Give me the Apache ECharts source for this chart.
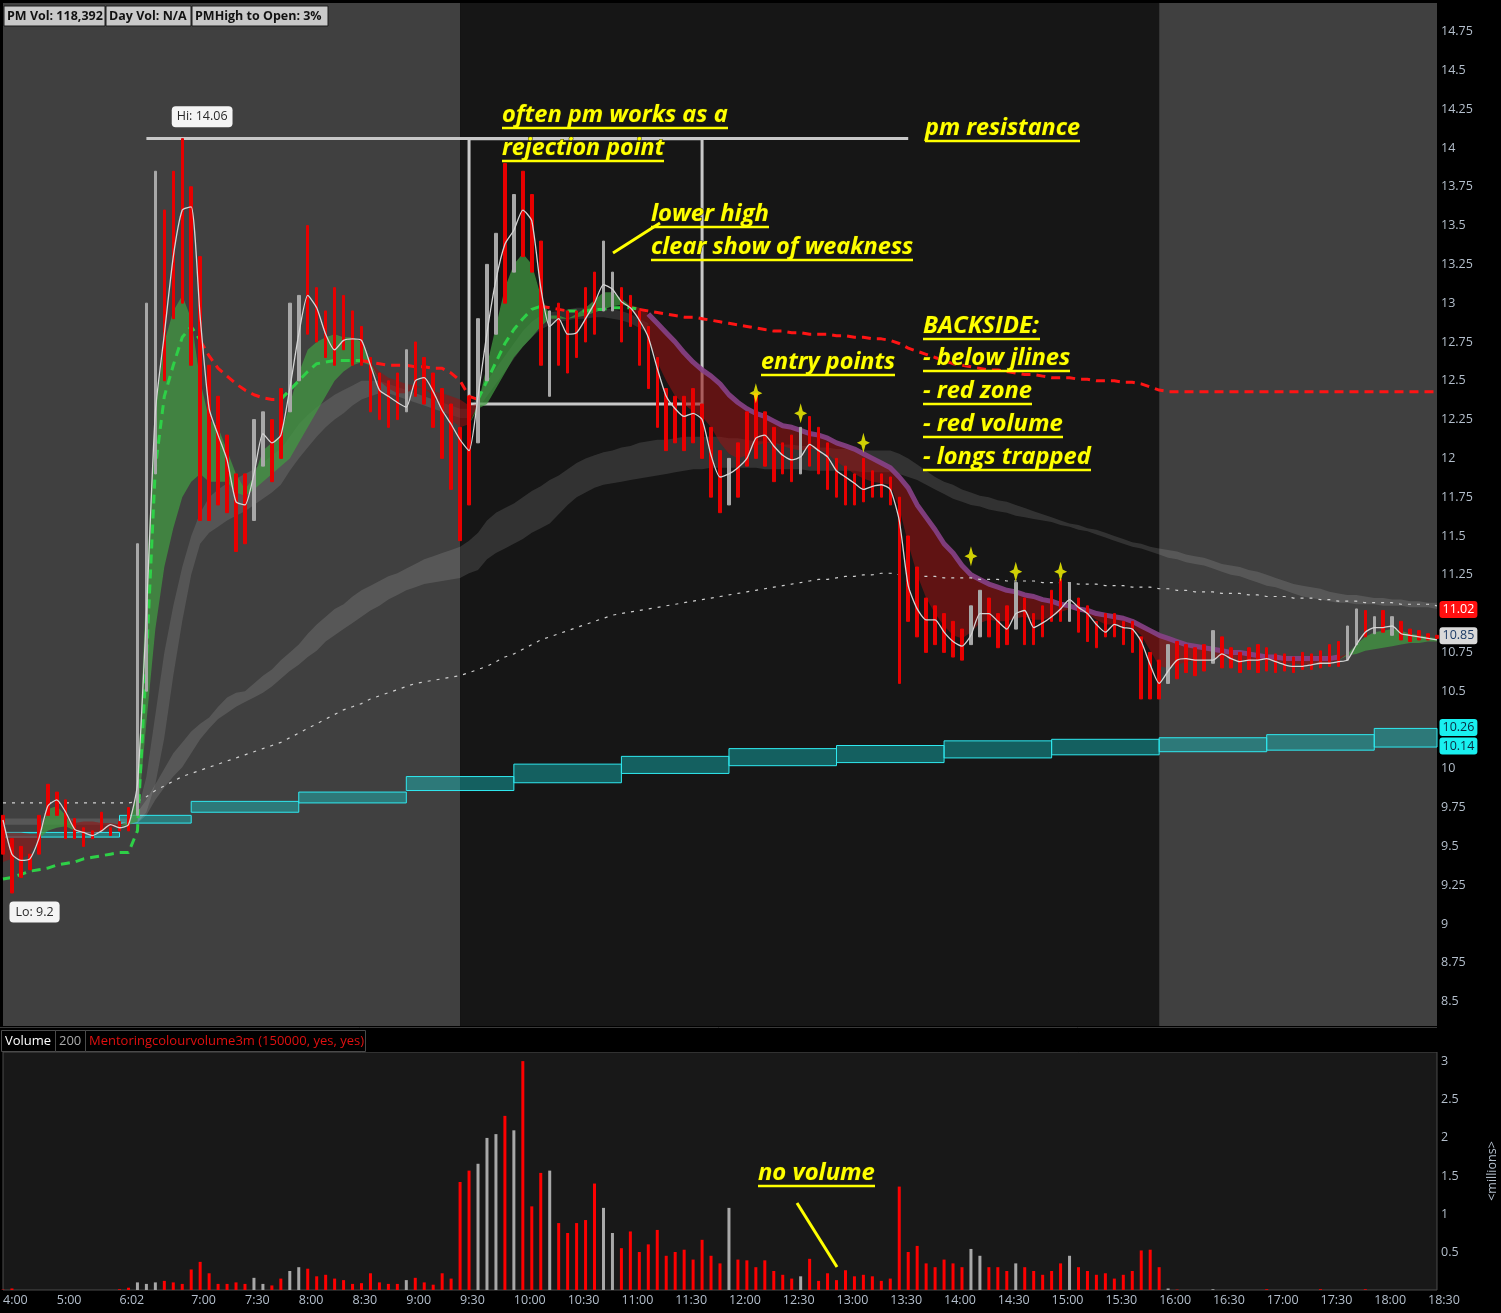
<!DOCTYPE html>
<html><head><meta charset="utf-8">
<script src="https://cdn.jsdelivr.net/npm/echarts@6/dist/echarts.min.js"></script>
<style>html,body{margin:0;padding:0;background:#000;}#c{width:1501px;height:1313px;}</style>
</head><body><div id="c"></div>
<script>
// ---------- categories (time slots) ----------
const preTimes = ["4:00","4:08","4:17","4:25","4:34","4:42","5:00","5:10","5:20","5:30","5:40","5:50","5:56","6:02","6:10","6:17","6:24","6:31","6:38","6:45","6:52"];
const slotTimes = preTimes.slice();
for (let m = 7 * 60; m <= 18 * 60 + 35; m += 5) slotTimes.push(Math.floor(m / 60) + ':' + String(m % 60).padStart(2, '0'));
const axisTimes = ["4:00","5:00","6:02","7:00","7:30","8:00","8:30","9:00","9:30","10:00","10:30","11:00","11:30","12:00","12:30","13:00","13:30","14:00","14:30","15:00","15:30","16:00","16:30","17:00","17:30","18:00","18:30"];

// ---------- price data ----------
const ema = [9.67,9.45,9.41,9.42,9.55,9.76,9.80,9.72,9.61,9.59,
 9.57,9.60,9.64,9.62,9.64,9.90,11.0,12.3,12.8,13.3,
 13.6,13.62,12.91,12.32,12.15,11.99,11.72,11.70,11.90,12.16,
 12.10,12.15,12.45,12.80,13.05,12.97,12.80,12.70,12.76,12.77,
 12.76,12.60,12.44,12.40,12.36,12.33,12.50,12.52,12.43,12.31,
 12.22,12.12,12.05,12.40,12.81,13.15,13.38,13.47,13.60,13.53,
 13.10,12.85,12.90,12.80,12.81,12.90,13.00,13.12,13.09,13.01,
 12.97,12.89,12.78,12.58,12.40,12.32,12.27,12.29,12.25,12.02,
 11.88,11.90,11.94,12.00,12.13,12.15,12.08,12.02,11.99,12.01,
 12.09,12.05,12.01,11.92,11.88,11.84,11.80,11.82,11.83,11.80,
 11.60,11.18,11.03,10.96,10.96,10.88,10.82,10.79,10.86,11.00,
 11.00,10.95,10.90,11.00,11.02,10.91,10.94,10.98,11.03,11.09,
 11.04,11.00,10.93,10.88,10.93,10.91,10.90,10.82,10.67,10.55,
 10.63,10.70,10.71,10.70,10.70,10.70,10.74,10.71,10.69,10.70,
 10.70,10.71,10.69,10.67,10.66,10.66,10.67,10.68,10.68,10.69,
 10.70,10.80,10.88,10.91,10.91,10.92,10.87,10.86,10.85,10.84,
 10.83];
const barHigh = [9.70,9.55,9.50,9.45,9.70,9.90,9.85,9.80,9.68,9.62,
 9.60,9.72,9.62,9.66,9.75,11.45,13.0,13.85,13.6,13.85,
 14.06,13.75,13.3,12.6,12.4,12.15,11.9,11.9,12.25,12.3,
 12.25,12.45,13.0,13.05,13.5,13.1,12.95,13.1,13.05,12.95,
 12.85,12.65,12.55,12.5,12.55,12.7,12.75,12.65,12.55,12.45,
 12.35,12.2,12.4,12.9,13.25,13.45,13.9,13.7,13.85,13.7,
 13.4,12.95,13.0,12.95,12.95,13.1,13.2,13.4,13.2,13.1,
 13.05,12.95,12.85,12.65,12.45,12.4,12.4,12.45,12.35,12.2,
 12.05,12.0,12.1,12.3,12.42,12.3,12.2,12.1,12.15,12.2,
 12.27,12.2,12.1,12.0,11.95,11.9,12.0,11.92,11.9,11.88,
 11.75,11.5,11.3,11.1,11.05,11.0,10.95,10.9,11.05,11.15,
 11.1,11.0,11.05,11.2,11.1,11.0,11.05,11.15,11.22,11.2,
 11.1,11.05,10.95,11.0,11.0,10.95,10.95,10.85,10.75,10.7,
 10.8,10.82,10.8,10.78,10.8,10.89,10.85,10.78,10.75,10.78,
 10.8,10.78,10.74,10.74,10.72,10.75,10.74,10.76,10.8,10.82,
 10.92,11.03,11.02,10.98,11.02,10.98,10.95,10.9,10.89,10.87,
 10.86];
const barLow = [9.45,9.20,9.30,9.35,9.45,9.70,9.70,9.55,9.55,9.50,
 9.55,9.60,9.57,9.60,9.60,9.70,10.5,11.9,12.5,12.9,
 13.0,12.6,11.6,11.6,11.7,11.65,11.4,11.45,11.6,11.95,
 11.85,12.0,12.3,12.5,12.8,12.75,12.65,12.6,12.7,12.6,
 12.6,12.3,12.25,12.2,12.25,12.3,12.4,12.35,12.2,12.0,
 11.8,11.47,11.7,12.1,12.5,12.8,13.0,13.2,13.3,13.2,
 12.6,12.4,12.6,12.55,12.65,12.75,12.8,12.95,12.95,12.75,
 12.85,12.6,12.45,12.2,12.05,12.1,12.05,12.1,12.0,11.75,
 11.65,11.7,11.75,11.95,12.0,11.95,11.85,11.9,11.85,11.9,
 11.95,11.9,11.8,11.75,11.7,11.7,11.72,11.75,11.75,11.7,
 10.55,10.95,10.85,10.75,10.8,10.75,10.72,10.7,10.8,10.85,
 10.85,10.78,10.8,10.9,10.8,10.8,10.85,10.95,10.95,10.95,
 10.88,10.82,10.78,10.85,10.85,10.8,10.75,10.45,10.45,10.45,
 10.55,10.58,10.62,10.6,10.63,10.68,10.65,10.65,10.62,10.64,
 10.62,10.63,10.62,10.63,10.62,10.64,10.64,10.65,10.66,10.66,
 10.7,10.8,10.85,10.87,10.88,10.86,10.83,10.82,10.83,10.83,
 10.84];
// u = up bar (grey), d = down bar (red)
const barDir = "dddddddddd"+"ddddduuudd"+"dddddddduu"+"dduudddddd"+"dddddudddd"+"ddduuududd"+"duddddduud"+"dddddddddd"+
 "dudddddddu"+"dddddddddd"+"dddddddduu"+"dddudddddu"+"dddddddddd"+"uddddudddd"+"dddddddddd"+"uudududddd"+"d";
// volume in millions
const volume = [0.005,0.02,0,0,0,0,0,0,0,0,
 0,0,0,0.01,0.03,0.1,0.08,0.1,0.12,0.1,
 0.08,0.27,0.37,0.22,0.08,0.08,0.1,0.08,0.16,0.08,
 0.06,0.15,0.25,0.3,0.28,0.18,0.2,0.15,0.13,0.08,
 0.09,0.22,0.1,0.08,0.08,0.13,0.16,0.1,0.07,0.22,
 0.15,1.42,1.57,1.66,2.0,2.05,2.29,2.1,3.01,1.1,
 1.54,1.57,0.88,0.75,0.88,0.92,1.4,1.08,0.75,0.55,
 0.77,0.5,0.6,0.79,0.45,0.5,0.53,0.4,0.66,0.45,
 0.35,1.08,0.4,0.39,0.3,0.39,0.25,0.2,0.15,0.18,
 0.41,0.12,0.22,0.13,0.26,0.18,0.2,0.18,0.12,0.15,
 1.36,0.5,0.58,0.35,0.3,0.4,0.35,0.3,0.54,0.45,
 0.3,0.3,0.25,0.35,0.3,0.25,0.2,0.25,0.35,0.45,
 0.3,0.25,0.2,0.22,0.15,0.2,0.25,0.52,0.53,0.3,
 0.02,0.005,0,0,0,0.01,0,0,0,0,
 0,0.01,0,0,0,0,0,0.01,0,0,
 0,0,0.01,0,0,0,0,0,0,0,
 0];
// "jlines" fast / slow
const jFast = [9.40,9.42,9.42,9.45,9.55,9.74,9.76,9.70,9.60,9.58,
 9.58,9.60,9.62,9.63,9.66,9.85,11.2,12.3,12.75,12.95,
 13.05,12.9,12.5,12.25,12.2,12.05,11.9,11.8,11.88,12.05,
 12.1,12.15,12.35,12.55,12.7,12.75,12.78,12.8,12.78,12.78,
 12.75,12.62,12.5,12.45,12.42,12.42,12.46,12.45,12.4,12.32,
 12.25,12.2,12.22,12.35,12.6,12.85,13.1,13.25,13.32,13.25,
 13.05,12.92,12.92,12.9,12.93,12.97,13.02,13.07,13.07,13.03,
 12.98,12.9,12.78,12.62,12.5,12.4,12.35,12.3,12.27,12.2,
 12.1,12.03,12.0,12.02,12.08,12.1,12.1,12.08,12.06,12.05,
 12.06,12.06,12.03,11.98,11.94,11.9,11.87,11.85,11.84,11.83,
 11.68,11.45,11.25,11.1,11.0,10.92,10.86,10.84,10.88,10.94,
 10.96,10.95,10.95,10.97,10.98,10.96,10.96,10.98,11.01,11.03,
 11.02,11.0,10.96,10.93,10.93,10.92,10.91,10.86,10.76,10.66,
 10.65,10.67,10.69,10.7,10.7,10.71,10.72,10.71,10.7,10.7,
 10.7,10.7,10.69,10.68,10.68,10.67,10.67,10.68,10.69,10.7,
 10.74,10.8,10.85,10.88,10.89,10.9,10.89,10.87,10.86,10.85,
 10.84];
const jSlow = [9.59,9.59,9.59,9.58,9.58,9.60,9.62,9.63,9.65,9.66,
 9.66,9.65,9.65,9.64,9.64,9.66,10.3,10.9,11.3,11.55,
 11.75,11.85,11.9,11.85,11.85,11.85,11.78,11.76,11.8,11.85,
 11.9,11.95,12.0,12.1,12.2,12.3,12.4,12.5,12.56,12.6,
 12.62,12.6,12.56,12.52,12.5,12.48,12.47,12.45,12.43,12.42,
 12.4,12.38,12.34,12.32,12.35,12.45,12.55,12.65,12.72,12.78,
 12.85,12.9,12.9,12.9,12.91,12.92,12.94,12.96,12.98,12.99,
 12.99,12.97,12.93,12.87,12.81,12.75,12.68,12.62,12.57,12.53,
 12.48,12.41,12.36,12.32,12.29,12.27,12.24,12.21,12.2,12.18,
 12.16,12.15,12.13,12.1,12.08,12.06,12.03,12.0,11.97,11.94,
 11.88,11.81,11.7,11.62,11.54,11.45,11.39,11.31,11.25,11.22,
 11.19,11.17,11.15,11.14,11.12,11.11,11.09,11.08,11.06,11.05,
 11.03,11.02,11.0,10.99,10.98,10.97,10.95,10.92,10.89,10.86,
 10.84,10.82,10.8,10.79,10.78,10.77,10.76,10.75,10.75,10.74,
 10.73,10.72,10.72,10.71,10.71,10.71,10.71,10.71,10.71,10.72,
 10.73,10.74,10.76,10.77,10.78,10.79,10.8,10.81,10.81,10.82,
 10.82];
const purpleSpan = ["11:15", "17:40"];
// near grey band (starts at 6:17)
const bandAStart = "6:17";
const bandAUp = [9.72,9.95,10.35,10.75,11.05,
 11.3,11.5,11.65,11.75,11.8,11.84,11.87,11.9,11.93,11.97,
 12.02,12.06,12.14,12.22,12.28,12.33,12.37,12.41,12.44,12.47,
 12.5,12.5,12.5,12.48,12.46,12.44,12.42,12.4,12.38,12.36,
 12.34,12.32,12.32,12.4,12.5,12.58,12.66,12.74,12.82,12.88,
 12.92,12.94,12.95,12.96,12.97,12.97,12.97,12.97,12.96,12.95,
 12.93,12.9,12.87];
const bandALo = [9.65,9.72,9.9,10.2,10.6,
 10.95,11.25,11.45,11.52,11.56,11.6,11.63,11.66,11.7,11.74,
 11.78,11.83,11.92,12.0,12.07,12.14,12.2,12.25,12.29,12.34,
 12.38,12.4,12.42,12.42,12.4,12.38,12.36,12.34,12.32,12.3,
 12.28,12.26,12.26,12.32,12.4,12.48,12.56,12.64,12.72,12.78,
 12.83,12.86,12.88,12.89,12.9,12.9,12.91,12.91,12.9,12.89,
 12.87,12.84,12.81];
// wide grey band
const bandBUp = [9.68,9.68,9.68,9.68,9.68,9.68,9.68,9.68,9.68,9.68,
 9.68,9.68,9.68,9.68,9.68,9.72,9.8,9.9,10.0,10.1,
 10.17,10.24,10.29,10.33,10.4,10.46,10.49,10.5,10.55,10.6,
 10.64,10.7,10.75,10.8,10.87,10.93,10.98,11.03,11.06,11.11,
 11.15,11.18,11.21,11.24,11.26,11.29,11.32,11.35,11.37,11.39,
 11.41,11.43,11.47,11.52,11.6,11.65,11.68,11.71,11.75,11.79,
 11.82,11.86,11.89,11.93,11.97,12.0,12.02,12.04,12.05,12.07,
 12.08,12.1,12.11,12.12,12.12,12.13,12.14,12.14,12.14,12.14,
 12.14,12.13,12.13,12.12,12.11,12.11,12.1,12.09,12.09,12.08,
 12.08,12.07,12.07,12.06,12.06,12.05,12.05,12.05,12.05,12.05,
 12.03,12.0,11.96,11.92,11.88,11.85,11.83,11.8,11.78,11.76,
 11.75,11.73,11.72,11.7,11.68,11.66,11.64,11.62,11.6,11.58,
 11.57,11.55,11.54,11.52,11.5,11.48,11.46,11.45,11.43,11.42,
 11.41,11.4,11.38,11.37,11.36,11.34,11.32,11.31,11.3,11.28,
 11.27,11.25,11.23,11.21,11.19,11.18,11.17,11.16,11.14,11.13,
 11.12,11.12,11.11,11.1,11.1,11.09,11.09,11.08,11.08,11.07,
 11.07];
const bandBLo = [9.64,9.64,9.64,9.64,9.64,9.64,9.64,9.64,9.64,9.64,
 9.64,9.64,9.64,9.64,9.64,9.65,9.7,9.8,9.88,9.95,
 10.01,10.1,10.19,10.26,10.32,10.36,10.4,10.43,10.46,10.49,
 10.53,10.58,10.63,10.67,10.72,10.76,10.82,10.86,10.9,10.94,
 10.98,11.02,11.05,11.09,11.12,11.15,11.17,11.19,11.2,11.21,
 11.22,11.23,11.26,11.28,11.35,11.39,11.42,11.45,11.48,11.52,
 11.55,11.58,11.64,11.7,11.75,11.78,11.81,11.83,11.84,11.85,
 11.86,11.87,11.88,11.89,11.9,11.91,11.92,11.93,11.93,11.94,
 11.94,11.94,11.94,11.94,11.94,11.93,11.93,11.93,11.93,11.93,
 11.92,11.92,11.92,11.92,11.92,11.92,11.91,11.91,11.91,11.91,
 11.9,11.88,11.86,11.83,11.8,11.77,11.74,11.72,11.7,11.69,
 11.67,11.66,11.65,11.63,11.62,11.61,11.6,11.59,11.57,11.56,
 11.54,11.53,11.51,11.49,11.47,11.45,11.43,11.42,11.4,11.38,
 11.36,11.35,11.33,11.32,11.31,11.29,11.27,11.25,11.24,11.22,
 11.2,11.18,11.17,11.15,11.13,11.11,11.1,11.09,11.08,11.07,
 11.07,11.06,11.06,11.06,11.05,11.05,11.05,11.04,11.04,11.04,
 11.03];
const vwap = [9.78,9.78,9.78,9.78,9.78,9.78,9.78,9.78,9.78,9.78,
 9.78,9.78,9.78,9.78,9.78,9.79,9.82,9.86,9.89,9.92,
 9.95,9.97,9.99,10.01,10.03,10.05,10.07,10.09,10.11,10.13,
 10.15,10.17,10.2,10.23,10.26,10.29,10.32,10.35,10.38,10.4,
 10.42,10.45,10.47,10.49,10.51,10.53,10.55,10.56,10.57,10.58,
 10.59,10.6,10.62,10.64,10.66,10.69,10.72,10.74,10.77,10.8,
 10.83,10.85,10.87,10.89,10.91,10.93,10.95,10.97,10.99,11.0,
 11.01,11.02,11.03,11.04,11.05,11.06,11.07,11.08,11.09,11.1,
 11.11,11.12,11.13,11.14,11.15,11.16,11.17,11.18,11.19,11.2,
 11.21,11.22,11.22,11.23,11.24,11.24,11.25,11.25,11.26,11.26,
 11.25,11.25,11.24,11.24,11.24,11.23,11.23,11.23,11.23,11.22,
 11.22,11.22,11.21,11.21,11.21,11.21,11.2,11.2,11.2,11.2,
 11.19,11.19,11.19,11.18,11.18,11.18,11.17,11.17,11.17,11.16,
 11.16,11.15,11.15,11.14,11.14,11.14,11.13,11.13,11.13,11.12,
 11.12,11.11,11.11,11.11,11.1,11.1,11.1,11.09,11.09,11.08,
 11.08,11.08,11.07,11.07,11.07,11.07,11.06,11.06,11.06,11.06,
 11.05];
// dashed trend line and its colour side (g = green, r = red)
const trend = [9.29,9.30,9.32,9.34,9.35,9.36,9.38,9.39,9.40,9.42,
 9.43,9.44,9.45,9.46,9.46,9.6,10.7,11.94,12.4,12.6,
 12.78,12.85,12.76,12.66,12.58,12.53,12.48,12.44,12.41,12.39,
 12.38,12.38,12.44,12.5,12.56,12.61,12.62,12.63,12.63,12.63,
 12.63,12.62,12.61,12.6,12.6,12.6,12.59,12.59,12.58,12.58,
 12.55,12.5,12.4,12.38,12.5,12.62,12.74,12.83,12.9,12.96,
 12.98,12.97,12.96,12.95,12.95,12.95,12.96,12.96,12.97,12.97,
 12.97,12.96,12.95,12.94,12.93,12.92,12.91,12.91,12.9,12.89,
 12.88,12.87,12.86,12.85,12.84,12.83,12.82,12.82,12.81,12.81,
 12.8,12.8,12.8,12.79,12.79,12.78,12.78,12.77,12.77,12.76,
 12.74,12.71,12.69,12.67,12.65,12.63,12.61,12.6,12.59,12.58,
 12.57,12.57,12.56,12.55,12.54,12.54,12.53,12.52,12.52,12.52,
 12.51,12.51,12.5,12.5,12.5,12.49,12.49,12.48,12.46,12.44,
 12.43,12.43,12.43,12.43,12.43,12.43,12.43,12.43,12.43,12.43,
 12.43,12.43,12.43,12.43,12.43,12.43,12.43,12.43,12.43,12.43,
 12.43,12.43,12.43,12.43,12.43,12.43,12.43,12.43,12.43,12.43,
 12.43];
const trendSide = "gggggggggggggggggggggg"+"rrrrrrrrr"+"ggggggggg"+"rrrrrrrrrrrrr"+"ggggggg"+"rrr"+"gggggggg"+"r".repeat(90);
// hourly cyan band
const cyanStart = ["4:00","6:02","7:00","8:00","9:00","10:00","11:00","12:00","13:00","14:00","15:00","16:00","17:00","18:00"];
const cyanUp = [9.59,9.70,9.79,9.85,9.95,10.03,10.08,10.13,10.15,10.18,10.19,10.20,10.22,10.26];
const cyanLo = [9.56,9.65,9.72,9.78,9.86,9.91,9.97,10.02,10.04,10.07,10.09,10.11,10.12,10.14];
// annotations tied to data
const entryTimes = ["12:15","12:40","13:15","14:15","14:40","15:05"];
const entryPrices = [12.42,12.29,12.10,11.37,11.27,11.27];
const resistSpan = ["6:24","13:40"];
const boxSpan = ["9:35","11:45"], boxPrices = [14.06, 12.35];
const edgeValues = [11.02, 10.85, 10.26, 10.14];
const sessions = [["4:00","9:30"],["9:30","16:00"],["16:00","18:35"]];

// ---------- builders ----------
const N = slotTimes.length;
const idx = t => slotTimes.indexOf(t);
function pad(start, arr) { const i0 = idx(start); return slotTimes.map((_, i) => (i >= i0 && i < i0 + arr.length) ? arr[i - i0] : null); }
const r4 = v => Math.round(v * 10000) / 10000;
function band(name, lo, hi, color, z) {
  return [
    { name: name + 'b', type: 'line', data: lo, stack: name, symbol: 'none', lineStyle: { width: 0 }, silent: true, z },
    { name, type: 'line', data: hi.map((h, i) => (h == null || lo[i] == null) ? null : r4(h - lo[i])), stack: name, symbol: 'none',
      lineStyle: { width: 0 }, areaStyle: { color, opacity: 1 }, silent: true, z }
  ];
}
const hiVal = Math.max(...barHigh), loVal = Math.min(...barLow);
const hiIdx = barHigh.indexOf(hiVal), loIdx = barLow.indexOf(loVal);
const aUp = pad(bandAStart, bandAUp), aLo = pad(bandAStart, bandALo);
const jBase = jFast.map((f, i) => Math.min(f, jSlow[i]));
const jGreen = jFast.map((f, i) => r4(Math.max(f - jSlow[i], 0)));
const jRed = jFast.map((f, i) => r4(Math.max(jSlow[i] - f, 0)));
const p0 = idx(purpleSpan[0]), p1 = idx(purpleSpan[1]);
const purple = jSlow.map((v, i) => (i >= p0 && i <= p1) ? v : null);
const trendG = trend.map((v, i) => (trendSide[i] === 'g' || (i > 0 && trendSide[i - 1] === 'g')) ? v : null);
const trendR = trend.map((v, i) => (trendSide[i] === 'r' || (i > 0 && trendSide[i - 1] === 'r')) ? v : null);
const candles = slotTimes.map((_, i) => barDir[i] === 'u' ? [barLow[i], barHigh[i], barLow[i], barHigh[i]] : [barHigh[i], barLow[i], barLow[i], barHigh[i]]);
const nulls = slotTimes.map(() => null);
const lastT = slotTimes[N - 1];

const axisCol = '#b4bfcc';
const FONT = '"Open Sans", "Noto Sans", sans-serif';

// ---------- annotation text ----------
const notes = [
  { t: 'often pm works as a', x: 502, u: 128, w: 226 },
  { t: 'rejection point', x: 502, u: 161, w: 162 },
  { t: 'pm resistance', x: 925, u: 141, w: 155 },
  { t: 'lower high', x: 651, u: 227, w: 118 },
  { t: 'clear show of weakness', x: 651, u: 260, w: 262 },
  { t: 'entry points', x: 761, u: 375, w: 134 },
  { t: 'BACKSIDE:', x: 923, u: 339, w: 117 },
  { t: '- below jlines', x: 923, u: 371, w: 147 },
  { t: '- red zone', x: 923, u: 404, w: 109 },
  { t: '- red volume', x: 923, u: 437, w: 140 },
  { t: '- longs trapped', x: 923, u: 470, w: 168 },
  { t: 'no volume', x: 758, u: 1186, w: 117 }
];
const ctx = document.createElement('canvas').getContext('2d');
const graphics = [];
notes.forEach(n => {
  ctx.font = 'italic bold 22px "Open Sans"';
  const m = ctx.measureText(n.t).width;
  const fs = Math.max(18, Math.min(24, 22 * n.w / m));
  graphics.push({ type: 'text', z: 100, silent: true,
    style: { text: n.t, x: n.x, y: n.u - 1, font: 'italic bold ' + fs.toFixed(1) + 'px "Open Sans"', fill: '#ffff00',
      stroke: 'rgba(50,50,0,0.9)', lineWidth: 1, textAlign: 'left', textVerticalAlign: 'bottom' } });
  graphics.push({ type: 'line', z: 100, silent: true, shape: { x1: n.x, y1: n.u, x2: n.x + n.w, y2: n.u },
    style: { stroke: '#ffff00', lineWidth: 2.5 } });
});
[[613, 253, 660, 223], [797, 1203, 837, 1267]].forEach(a => graphics.push({ type: 'line', z: 100, silent: true,
  shape: { x1: a[0], y1: a[1], x2: a[2], y2: a[3] }, style: { stroke: '#ffff00', lineWidth: 3 } }));
// info boxes top-left
[{ t: 'PM Vol: 118,392', x: 4, w: 101 }, { t: 'Day Vol: N/A', x: 106, w: 85 }, { t: 'PMHigh to Open: 3%', x: 192, w: 136 }].forEach(b => {
  graphics.push({ type: 'rect', z: 100, silent: true, shape: { x: b.x, y: 6, width: b.w, height: 20 }, style: { fill: '#c9c9c9', stroke: '#1a1a1a', lineWidth: 1 } });
  graphics.push({ type: 'text', z: 101, silent: true, style: { text: b.t, x: b.x + 3, y: 16, font: 'bold 12.5px ' + FONT, fill: '#111', textVerticalAlign: 'middle' } });
});
// volume header
graphics.push({ type: 'rect', z: 100, silent: true, shape: { x: 0, y: 1027, width: 1437, height: 25 }, style: { fill: '#000' } });
graphics.push({ type: 'line', z: 101, silent: true, shape: { x1: 0, y1: 1027.5, x2: 1437, y2: 1027.5 }, style: { stroke: '#3a3a3a', lineWidth: 1 } });
[{ t: 'Volume', x: 1, w: 54, c: '#ffffff' }, { t: '200', x: 55, w: 30, c: '#aaaaaa' }, { t: 'Mentoringcolourvolume3m (150000, yes, yes)', x: 85, w: 280, c: '#e01010' }].forEach(b => {
  graphics.push({ type: 'rect', z: 101, silent: true, shape: { x: b.x + 0.5, y: 1030.5, width: b.w, height: 21 }, style: { fill: '#000', stroke: '#4a4a4a', lineWidth: 1 } });
  graphics.push({ type: 'text', z: 102, silent: true, style: { text: b.t, x: b.x + 4, y: 1041, font: '13px ' + FONT, fill: b.c, textVerticalAlign: 'middle' } });
});

// ---------- chart ----------
const chart = echarts.init(document.getElementById('c'), null, { renderer: 'canvas' });
const labelBox = (text, bg, fg, pos, pad) => ({ show: true, formatter: text, position: pos, backgroundColor: bg, color: fg,
  padding: pad || [4, 5], borderRadius: 4, fontSize: 12.5, fontFamily: FONT });
const edgeStyles = [['#ff1010', '#ffffff'], ['#d9d9d9', '#1d3b66'], ['#19f0f0', '#0a2a40'], ['#19f0f0', '#0a2a40']];

const option = {
  animation: false,
  backgroundColor: '#000',
  grid: [
    { left: 3, right: 64, top: 3, height: 1037.4, outerBoundsMode: 'none', containLabel: false },
    { left: 3, right: 64, top: 1052, height: 238, outerBoundsMode: 'none', containLabel: false, show: true, backgroundColor: '#181818', borderColor: '#4a4a4a', borderWidth: 1 }
  ],
  xAxis: [
    { gridIndex: 0, type: 'category', data: slotTimes, boundaryGap: false, show: false },
    { gridIndex: 1, type: 'category', data: slotTimes, boundaryGap: false, axisLine: { show: false }, axisTick: { show: false },
      axisLabel: { interval: (i, v) => axisTimes.includes(v), align: 'left', color: axisCol, fontSize: 12.5, fontFamily: FONT, margin: 4 } }
  ],
  yAxis: [
    { gridIndex: 0, type: 'value', position: 'right', min: 8.25, max: 14.934, interval: 0.25, splitLine: { show: false },
      axisLine: { show: false }, axisTick: { show: false },
      axisLabel: { color: axisCol, fontSize: 12.5, fontFamily: FONT, margin: 4, align: 'left',
        formatter: v => { const q = Math.round(v * 4) / 4; if (Math.abs(q - v) > 1e-6 || v < 8.4 || v > 14.8) return ''; return String(+v.toFixed(2)); } } },
    { gridIndex: 1, type: 'value', position: 'right', min: 0, max: 3.13, interval: 0.5, splitLine: { show: false },
      axisLine: { show: false }, axisTick: { show: false },
      name: '<millions>', nameLocation: 'middle', nameGap: 49, nameRotate: 90, nameTextStyle: { color: axisCol, fontSize: 12.5, fontFamily: FONT },
      axisLabel: { color: axisCol, fontSize: 12.5, fontFamily: FONT, margin: 4, align: 'left',
        formatter: v => { if (v < 0.4 || v > 3.05 || Math.abs(Math.round(v * 2) / 2 - v) > 1e-6) return ''; return String(+v.toFixed(1)); } } }
  ],
  graphic: graphics,
  series: [
    { name: 'sessions', type: 'line', data: nulls, z: 0, silent: true,
      markArea: { silent: true, z: 0, data: sessions.map((s, i) => [{ xAxis: s[0], yAxis: 8.343, itemStyle: { color: i === 1 ? '#161616' : '#404040' } }, { xAxis: s[1], yAxis: 14.934 }]) } },
    { name: 'cyan', type: 'line', data: nulls, z: 1, silent: true,
      markArea: { silent: true, itemStyle: { color: 'rgba(20,200,200,0.42)', borderColor: '#2fe9f0', borderWidth: 1 },
        data: cyanStart.map((s, i) => [{ xAxis: s, yAxis: cyanUp[i] }, { xAxis: cyanStart[i + 1] || lastT, yAxis: cyanLo[i] }]) } },
    ...band('bandB', bandBLo, bandBUp, 'rgba(255,255,255,0.12)', 2),
    ...band('bandA', aLo, aUp, 'rgba(255,255,255,0.11)', 2),
    { name: 'jb', type: 'line', data: jBase, stack: 'j', symbol: 'none', lineStyle: { width: 0 }, silent: true, z: 3 },
    { name: 'jg', type: 'line', data: jGreen, stack: 'j', symbol: 'none', lineStyle: { width: 0 }, areaStyle: { color: 'rgba(65,155,65,0.72)', opacity: 1 }, silent: true, z: 3 },
    { name: 'jr', type: 'line', data: jRed, stack: 'j', symbol: 'none', lineStyle: { width: 0 }, areaStyle: { color: 'rgba(150,18,18,0.58)', opacity: 1 }, silent: true, z: 3 },
    { name: 'purple', type: 'line', data: purple, symbol: 'none', lineStyle: { color: 'rgba(135,65,135,0.9)', width: 5 }, silent: true, z: 4 },
    { name: 'vwap', type: 'line', data: vwap, symbol: 'none', lineStyle: { color: '#cfcfcf', width: 1.2, type: [3, 6] }, silent: true, z: 4 },
    { name: 'trendG', type: 'line', data: trendG, symbol: 'none', lineStyle: { color: '#2ed047', width: 3, type: [9, 6] }, silent: true, z: 5 },
    { name: 'trendR', type: 'line', data: trendR, symbol: 'none', lineStyle: { color: '#ff1414', width: 3, type: [9, 6] }, silent: true, z: 5 },
    { name: 'price', type: 'candlestick', data: candles, barWidth: 3, silent: true, z: 6,
      itemStyle: { color: '#a8a8a8', color0: '#e80000', borderColor: '#a8a8a8', borderColor0: '#e80000', borderWidth: 1 } },
    { name: 'ema', type: 'line', data: ema, symbol: 'none', smooth: 0.2, lineStyle: { color: '#d4d4d4', width: 1.3 }, silent: true, z: 7,
      markPoint: { symbol: 'circle', symbolSize: 1, itemStyle: { color: 'rgba(0,0,0,0)' }, silent: true,
        data: [
          { coord: [slotTimes[hiIdx], hiVal], label: labelBox('Hi: ' + hiVal, '#f4f4f4', '#2a2a2a', [-10, -32]) },
          { coord: [slotTimes[loIdx], loVal], label: labelBox('Lo: ' + loVal, '#f4f4f4', '#2a2a2a', [-2, 9], [4, 6]) }
        ] } },
    { name: 'marks', type: 'line', data: nulls, z: 8, silent: true,
      markLine: { silent: true, symbol: ['none', 'none'], label: { show: false }, lineStyle: { color: '#c8c8c8', width: 3, type: 'solid' },
        data: [[{ coord: [resistSpan[0], hiVal] }, { coord: [resistSpan[1], hiVal] }]] },
      markArea: { silent: true, itemStyle: { color: 'rgba(0,0,0,0)', borderColor: '#c8c8c8', borderWidth: 3 },
        data: [[{ xAxis: boxSpan[0], yAxis: boxPrices[0] }, { xAxis: boxSpan[1], yAxis: boxPrices[1] }]] } },
    { name: 'entries', type: 'scatter', data: entryTimes.map((t, i) => [t, entryPrices[i]]), z: 9, silent: true,
      symbol: 'path://M0,-12 L2.6,-2.6 L8,0 L2.6,2.6 L0,12 L-2.6,2.6 L-8,0 L-2.6,-2.6 Z', symbolSize: [13, 20],
      itemStyle: { color: '#ffff00' } },
    { name: 'edge', type: 'line', data: nulls, z: 10, silent: true,
      markPoint: { symbol: 'circle', symbolSize: 1, itemStyle: { color: 'rgba(0,0,0,0)' }, silent: true,
        data: edgeValues.map((v, i) => ({ coord: [lastT, v], label: Object.assign(labelBox(v.toFixed(2), edgeStyles[i][0], edgeStyles[i][1], [3, -9], [2, 3]), { borderRadius: 3 }) })) } },
    { name: 'volume', type: 'bar', xAxisIndex: 1, yAxisIndex: 1, barWidth: 3, silent: true,
      data: volume.map((v, i) => ({ value: v, itemStyle: { color: barDir[i] === 'u' ? '#a8a8a8' : '#ff0000' } })) }
  ]
};
chart.setOption(option);
</script>
</body></html>
